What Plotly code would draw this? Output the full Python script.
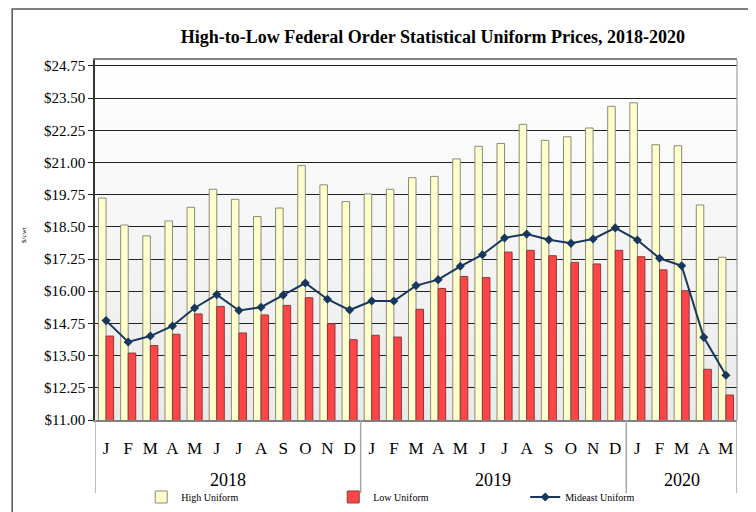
import plotly.graph_objects as go

years = ["2018"] * 12 + ["2019"] * 12 + ["2020"] * 5
months = ["J", "F", "M", "A", "M", "J", "J", "A", "S", "O", "N", "D"] * 2 + ["J", "F", "M", "A", "M"]

high_uniform = [19.62, 18.57, 18.15, 18.73, 19.26, 19.96, 19.57, 18.90, 19.23, 20.88, 20.13, 19.48,
                19.78, 19.96, 20.41, 20.46, 21.14, 21.63, 21.74, 22.48, 21.86, 22.00, 22.34, 23.18,
                23.32, 21.69, 21.65, 19.35, 17.32]
low_uniform = [14.26, 13.60, 13.89, 14.33, 15.12, 15.41, 14.38, 15.08, 15.45, 15.75, 14.74, 14.12,
               14.29, 14.22, 15.30, 16.11, 16.57, 16.53, 17.52, 17.59, 17.38, 17.12, 17.06, 17.59,
               17.34, 16.83, 16.02, 12.97, 11.97]
mideast_uniform = [14.86, 14.03, 14.26, 14.65, 15.35, 15.87, 15.25, 15.38, 15.85, 16.32, 15.69, 15.27,
                   15.62, 15.62, 16.22, 16.45, 16.97, 17.42, 18.07, 18.22, 18.00, 17.86, 18.03, 18.46,
                   17.99, 17.28, 16.99, 14.21, 12.74]

y_ticks = [11.00 + 1.25 * i for i in range(12)]
y_ticktext = ["$%.2f" % v for v in y_ticks]

x = list(range(len(months)))
FONT = "Liberation Serif"

fig = go.Figure()
fig.add_trace(go.Bar(x=x, y=high_uniform, name="High Uniform",
                     marker=dict(color="#ffffcc", line=dict(color="#8a8a7a", width=1))))
fig.add_trace(go.Bar(x=x, y=low_uniform, name="Low Uniform",
                     marker=dict(color="#ff4646", line=dict(color="#8a3a3a", width=1))))
fig.add_trace(go.Scatter(x=x, y=mideast_uniform, name="Mideast Uniform", mode="lines+markers",
                         line=dict(color="#17375e", width=2),
                         marker=dict(symbol="diamond", size=7, color="#17375e")))

# background gradient (white at top to light gray at bottom)
shapes = []
n = 30
for i in range(n):
    t = i / (n - 1)
    c = int(round(255 - (255 - 234) * (1 - t)))
    shapes.append(dict(type="rect", xref="x domain", yref="y domain",
                       x0=0, x1=1, y0=i / n, y1=(i + 1) / n, layer="below",
                       line=dict(width=0), fillcolor="rgb(%d,%d,%d)" % (c, c, c)))

# year group separators
year_names = []
for yv in years:
    if yv not in year_names:
        year_names.append(yv)
bounds = [-0.5]
for yn in year_names:
    idx = [i for i, yv in enumerate(years) if yv == yn]
    bounds.append(idx[-1] + 0.5)
for b in bounds:
    shapes.append(dict(type="line", xref="x", yref="paper", x0=b, x1=b, y0=0, y1=-0.203,
                       line=dict(color="#a6a6a6", width=1.5)))

# outer chart frame
shapes.append(dict(type="rect", xref="paper", yref="paper", x0=-0.129, x1=1.0205,
                   y0=-0.30, y1=1.1417, line=dict(color="#555555", width=1.5)))
# right border of plot
shapes.append(dict(type="line", xref="x domain", yref="y domain", x0=1, x1=1, y0=0, y1=1,
                   line=dict(color="#a0a0a0", width=1.2)))

annotations = []
for yn in year_names:
    idx = [i for i, yv in enumerate(years) if yv == yn]
    annotations.append(dict(text=yn, x=(idx[0] + idx[-1]) / 2, xref="x", y=-0.167, yref="paper",
                            showarrow=False, yanchor="middle",
                            font=dict(family=FONT, size=18, color="black")))
annotations.append(dict(text="$/cwt", x=-0.12, xref="paper", y=0.514, yref="paper",
                        textangle=-90, showarrow=False, font=dict(family=FONT, size=7, color="black")))

fig.update_layout(
    width=748, height=504,
    margin=dict(l=87, r=19, t=52, b=92),
    paper_bgcolor="white", plot_bgcolor="#f4f4f4",
    title=dict(text="<b>High-to-Low Federal Order Statistical Uniform Prices, 2018-2020</b>",
               x=0.568, xanchor="center", y=1 - 29 / 504, yanchor="middle",
               font=dict(family=FONT, size=18, color="black")),
    barmode="group", bargap=0.32, bargroupgap=0,
    shapes=shapes, annotations=annotations,
    showlegend=True,
    legend=dict(orientation="h", x=0.072, xanchor="left", xref="paper",
                y=0.0298, yref="container", yanchor="middle",
                font=dict(family=FONT, size=10, color="black"), entrywidth=147,
                bgcolor="rgba(0,0,0,0)", itemwidth=30),
    xaxis=dict(range=[-0.5, len(x) - 0.5], tickvals=x, ticktext=months,
               tickfont=dict(family=FONT, size=17, color="black"),
               ticks="outside", ticklen=12, tickcolor="rgba(0,0,0,0)",
               showgrid=False, zeroline=False,
               showline=True, linecolor="#808080", linewidth=1.5, mirror=True),
    yaxis=dict(range=[11, 24.98], tickvals=y_ticks, ticktext=y_ticktext,
               tickfont=dict(family=FONT, size=15, color="black"),
               ticks="outside", ticklen=5, tickcolor="#222222", tickwidth=1.3,
               showgrid=True, gridcolor="#222222", gridwidth=1.3, zeroline=False,
               showline=True, linecolor="#333333", linewidth=1.5),
)

fig.write_html("out.html")
